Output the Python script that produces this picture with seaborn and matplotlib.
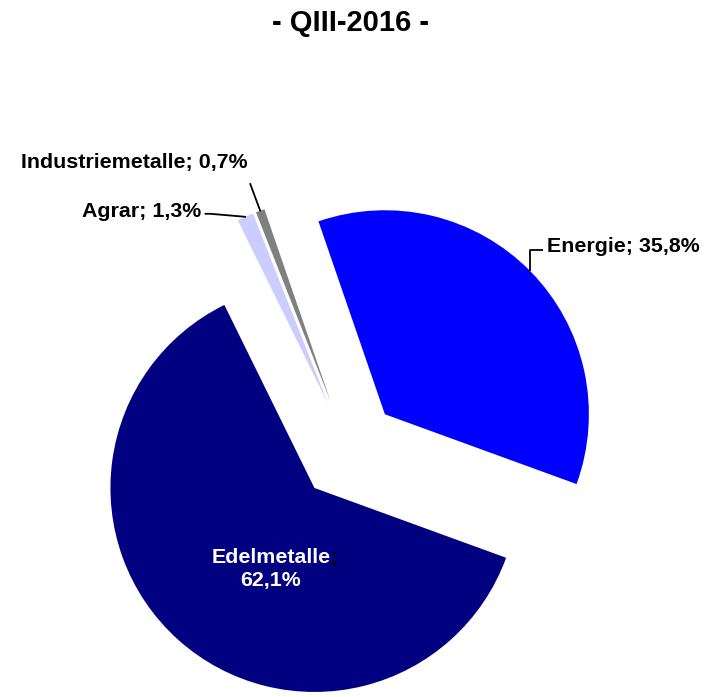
import numpy as np
import matplotlib
matplotlib.use("Agg")
import matplotlib.pyplot as plt
import seaborn as sns

# ---- data ----
categories = ["Energie", "Edelmetalle", "Agrar", "Industriemetalle"]
shares = [35.8, 62.1, 1.3, 0.7]
share_labels = ["35,8%", "62,1%", "1,3%", "0,7%"]
colors = ["#0000FF", "#000080", "#CCCCFF", "#808080"]
title = "- QIII-2016 -"

sns.set_theme(style="white")
plt.rcParams["font.family"] = ["Liberation Sans", "DejaVu Sans"]

W, H, DPI = 712, 697, 100
fig = plt.figure(figsize=(W / DPI, H / DPI), dpi=DPI)
ax = fig.add_axes([0, 0, 1, 1])

R_PX = 204.0           # pie radius in pixels
CX, CY = 348.5, 450.0  # pie centre in pixels (from top)

wedges, _ = ax.pie(shares, colors=colors, startangle=109, counterclock=False,
                   explode=[0.25] * 4, radius=1.0,
                   wedgeprops=dict(linewidth=0, edgecolor="none"))

ax.set_xlim(-CX / R_PX, (W - CX) / R_PX)
ax.set_ylim(-(H - CY) / R_PX, CY / R_PX)
ax.set_aspect("auto")
ax.axis("off")


def px(d):
    return d / R_PX


def arc_mid(w):
    m = np.deg2rad((w.theta1 + w.theta2) / 2)
    cx, cy = w.center
    return cx + w.r * np.cos(m), cy + w.r * np.sin(m)


fs = 15.4
# Energie
w = wedges[0]
ax0, ay0 = arc_mid(w)
ax.plot([ax0, ax0, ax0 + px(13)], [ay0, ay0 + px(21), ay0 + px(21)],
        color="black", lw=1.3, solid_capstyle="butt")
ax.text(ax0 + px(17), ay0 + px(25), f"{categories[0]}; {share_labels[0]}",
        fontsize=fs, fontweight="bold", ha="left", va="center", color="black")

# Edelmetalle (inside)
w = wedges[1]
ecx, ecy = w.center
ax.text(ecx + px(16), ecy - px(70), categories[1], fontsize=fs,
        fontweight="bold", ha="right", va="center", color="white")
ax.text(ecx + px(16.5), ecy - px(70), ";", fontsize=fs,
        fontweight="bold", ha="left", va="center", color="black")
ax.text(ecx - px(44), ecy - px(93), share_labels[1], fontsize=fs,
        fontweight="bold", ha="center", va="center", color="white")

# Agrar
w = wedges[2]
gx, gy = arc_mid(w)
ax.plot([gx, gx - px(35), gx - px(40)], [gy, gy + px(3), gy + px(3)],
        color="black", lw=1.3)
ax.text(gx - px(44), gy + px(5), f"{categories[2]}; {share_labels[2]}",
        fontsize=fs, fontweight="bold", ha="right", va="center", color="black")

# Industriemetalle
w = wedges[3]
ix, iy = arc_mid(w)
ax.plot([ix, ix - px(10)], [iy, iy + px(27)], color="black", lw=1.3)
ax.text(ix - px(13), iy + px(48), f"{categories[3]}; {share_labels[3]}",
        fontsize=fs, fontweight="bold", ha="right", va="center", color="black")

fig.text(350 / W, 1 - 23 / H, title, fontsize=21, fontweight="bold",
         ha="center", va="center", color="black")

fig.savefig("out.png", dpi=DPI, facecolor="white")
